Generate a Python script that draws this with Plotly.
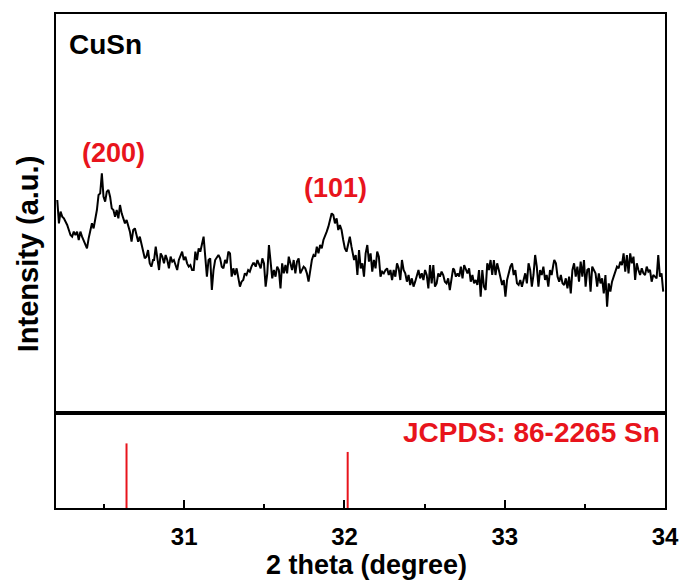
import numpy as np
import plotly.graph_objects as go

# --- XRD scan (2 theta in degrees, intensity in a.u.) ---
step = 0.0103
seg_start = [30.208, 30.812, 31.436, 32.060, 32.685, 33.309]
seg_a = [380,310,345,330,325,315,305,290,275,270,285,275,285,260,285,270,260,250,235,265,
         285,310,295,325,350,395,400,460,390,375,405,410,390,355,350,330,350,325,365,340,
         325,310,320,300,285,255,290,295,270,255,270,245,225,205,210,230,190,180,200]
seg_b = [200,240,200,170,220,210,190,215,200,175,210,195,200,185,170,200,215,225,200,210,
         190,180,185,170,170,225,200,235,225,250,270,210,150,200,205,110,170,200,210,215,
         205,180,175,200,190,225,220,150,175,155,175,150,120,135,140,160,155,170,165,180,190]
seg_c = [190,180,200,185,175,205,190,120,160,245,200,145,170,150,180,170,115,190,160,185,
         160,210,190,170,200,160,195,205,160,170,180,175,160,135,170,200,215,210,240,220,
         245,235,260,270,285,300,320,340,335,310,325,290,305,290,260,235,225,250,270,240,220]
seg_d = [200,215,155,230,175,190,150,220,245,195,220,165,200,175,225,210,150,165,160,170,
         175,155,170,140,170,150,190,175,140,200,170,160,135,155,125,145,120,135,155,170,
         145,160,140,170,155,115,185,130,185,120,130,160,150,165,155,135,130,145,110,140,175]
seg_e = [170,150,160,150,180,145,185,170,160,175,135,155,130,140,125,170,90,170,120,110,
         190,170,200,155,200,155,190,170,145,125,140,90,140,160,180,190,155,170,130,125,
         140,120,145,160,130,190,170,120,155,215,180,120,170,155,180,140,155,120,170,155,185]
seg_f = [200,190,150,135,155,130,125,145,115,150,100,170,190,150,180,135,195,150,200,120,
         170,175,105,180,170,160,120,160,130,145,100,155,60,130,105,135,150,165,180,175,
         195,185,220,165,215,160,220,190,210,140,190,170,155,175,160,155,180,165,170,135,
         155,150,145,215,150,160,105]
segments = [seg_a, seg_b, seg_c, seg_d, seg_e, seg_f]

# --- reference pattern JCPDS 86-2265 (Sn) ---
ref_pos = [30.64, 32.02]
ref_int = [68, 59]
peak_labels = ["(200)", "(101)"]
label_pos = [30.558, 31.943]
label_int = [521, 416]

x_ticks = [31, 32, 33, 34]
x_minor = [30.5, 31.5, 32.5, 33.5]

two_theta, intensity = [], []
for s0, seg in zip(seg_start, segments):
    for i, v in enumerate(seg):
        two_theta.append(s0 + step * i)
        intensity.append(v)

rx, ry = [], []
for p, h in zip(ref_pos, ref_int):
    rx += [p, p, None]
    ry += [0, h, None]

RED = "#e8141c"
FONT = "Liberation Sans, Arial, sans-serif"

fig = go.Figure()
fig.add_trace(go.Scatter(x=two_theta, y=intensity, mode="lines",
                         line=dict(color="black", width=2), xaxis="x", yaxis="y",
                         showlegend=False, hoverinfo="skip"))
fig.add_trace(go.Scatter(x=rx, y=ry, mode="lines",
                         line=dict(color=RED, width=2), xaxis="x2", yaxis="y2",
                         showlegend=False, hoverinfo="skip"))

L, R = 56, 20
W = 691 - L - R
split = 95 / 494
fig.update_layout(
    width=691, height=582,
    margin=dict(l=L, r=R, t=14, b=74),
    paper_bgcolor="white", plot_bgcolor="white",
    font=dict(family=FONT, color="black"),
    xaxis=dict(domain=[0, 1], anchor="y", range=[30.2, 34], matches="x2",
               showline=True, mirror=True, linecolor="black", linewidth=2,
               showgrid=False, zeroline=False, showticklabels=False, ticks=""),
    yaxis=dict(domain=[split, 1], anchor="x", range=[-259, 938],
               showline=True, mirror=True, linecolor="black", linewidth=2,
               showgrid=False, zeroline=False, showticklabels=False, ticks=""),
    xaxis2=dict(domain=[0, 1], anchor="y2", range=[30.2, 34],
                showline=True, mirror=True, linecolor="black", linewidth=2,
                showgrid=False, zeroline=False,
                tickmode="array", tickvals=x_ticks, ticktext=[str(t) for t in x_ticks],
                ticks="inside", ticklen=8, tickwidth=2, tickcolor="black",
                ticklabelstandoff=6,
                tickfont=dict(family=FONT, size=24, color="black", weight="bold"),
                minor=dict(tickmode="array", tickvals=x_minor, ticks="inside",
                           ticklen=4, tickwidth=2, tickcolor="black")),
    yaxis2=dict(domain=[0, split], anchor="x2", range=[0, 100],
                showline=True, mirror=True, linecolor="black", linewidth=2,
                showgrid=False, zeroline=False, showticklabels=False, ticks=""),
)

annots = []
for t, xp, yp in zip(peak_labels, label_pos, label_int):
    annots.append(dict(x=xp, y=yp, xref="x", yref="y", text=t, showarrow=False,
                       font=dict(family=FONT, size=27, color=RED, weight="bold")))
annots += [
    dict(x=(67 - L) / W, y=(508 - 44) / 494, xref="paper", yref="paper", text="CuSn",
         showarrow=False, xanchor="left", yanchor="middle",
         font=dict(family=FONT, size=28, color="black", weight="bold")),
    dict(x=(668 - L) / W, y=(508 - 432) / 494, xref="paper", yref="paper",
         text="JCPDS: 86-2265 Sn", showarrow=False, xanchor="right", yanchor="middle",
         font=dict(family=FONT, size=28, color=RED, weight="bold")),
    dict(x=(370 - L) / W, y=-(565 - 508) / 494, xref="paper", yref="paper",
         text="2 theta (degree)",
         showarrow=False, xanchor="center", yanchor="middle",
         font=dict(family=FONT, size=27, color="black", weight="bold")),
    dict(x=-(L - 28) / W, y=(508 - 254) / 494, xref="paper", yref="paper",
         text="Intensity (a.u.)", textangle=-90, showarrow=False,
         xanchor="center", yanchor="middle",
         font=dict(family=FONT, size=29, color="black", weight="bold")),
]
fig.update_layout(annotations=annots)

fig.write_html("out.html", config={"displayModeBar": False},
               post_script="document.body.style.margin='0';document.body.style.overflow='hidden';")
